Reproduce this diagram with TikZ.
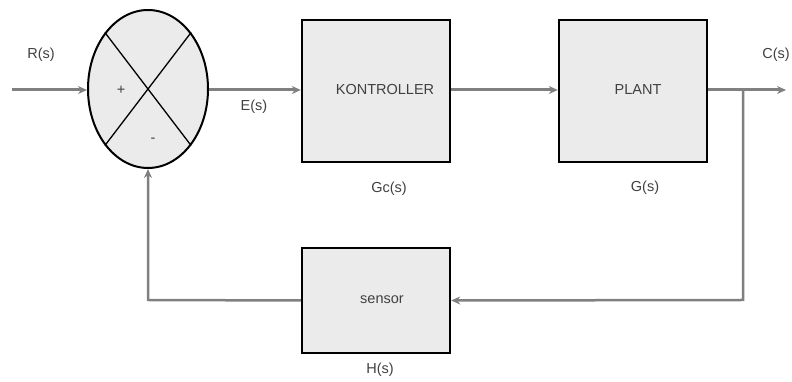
\documentclass[tikz,border=0pt]{standalone}
\usepackage{fontspec}
\setmainfont{Liberation Sans}
\usetikzlibrary{shapes.geometric,arrows.meta}

\tikzset{
    block/.style={draw=black, line width=2.4pt, fill=black!8, inner sep=0pt},
    lbl/.style={text=black!75, font=\fontsize{14.5}{16}\selectfont},
    sig/.style={draw=black!50, line width=3pt, -{Stealth[length=9pt,width=8pt]}},
    fb/.style={draw=black!50, line width=2.5pt}
}

\begin{document}
\begin{tikzpicture}[x=1pt, y=1pt]
    \useasboundingbox (0,0) rectangle (792,382);
    % summing junction
    \node[ellipse, block, line width=2pt, minimum width=120pt, minimum height=158pt] (sum) at (148,293) {};
    \draw[line width=1.3pt] (sum.north east) -- (sum.south west);
    \draw[line width=1.3pt] (sum.north west) -- (sum.south east);
    \node[lbl] (plus) at (121,292) {+};
    \node[lbl] (minus) at (153,242) {-};
    % blocks
    \node[block, minimum width=148pt, minimum height=142pt] (ctrl) at (376,291) {};
    \node[lbl] (ctrltxt) at (385,292) {KONTROLLER};
    \node[block, minimum width=148pt, minimum height=142pt] (plant) at (633,291) {};
    \node[lbl] (planttxt) at (638,292) {PLANT};
    \node[block, minimum width=148pt, minimum height=105pt] (sensor) at (376,81.5) {};
    \node[lbl] (sensortxt) at (382,82) {sensor};
    % labels
    \node[lbl] (r) at (41,327) {R(s)};
    \node[lbl] (e) at (254,275) {E(s)};
    \node[lbl] (gc) at (389,193) {Gc(s)};
    \node[lbl] (g) at (645,194) {G(s)};
    \node[lbl] (c) at (776,327) {C(s)};
    \node[lbl] (h) at (380,12) {H(s)};
    % signal points
    \coordinate (in) at (12,292);
    \coordinate (split) at (743,292);
    \coordinate (out) at (786,292);
    \coordinate (br) at (743,82);
    \coordinate (bl) at (148,82);
    % forward path
    \draw[sig] (in) -- (sum.west |- in);
    \draw[sig] (sum.east |- in) -- (ctrl.west |- in);
    \draw[sig] (ctrl.east |- in) -- (plant.west |- in);
    \draw[sig] (plant.east |- in) -- (out);
    % feedback path
    \draw[fb, -{Stealth[length=9pt,width=8pt]}] (split) -- (br) -- (sensor.east);
    \draw[fb, -{Stealth[length=9pt,width=8pt]}] (sensor.west) -- (bl) -- (sum.south);
\end{tikzpicture}
\end{document}
